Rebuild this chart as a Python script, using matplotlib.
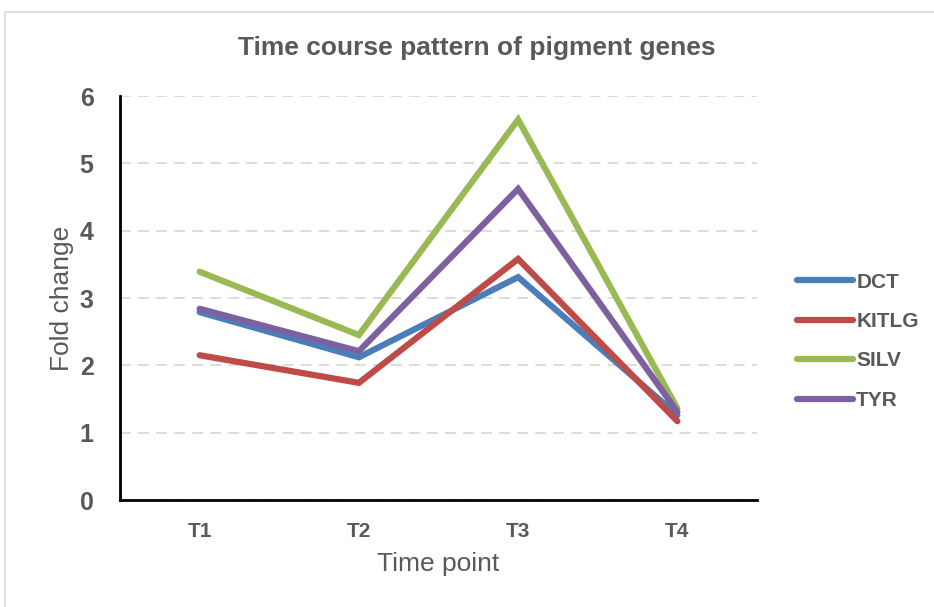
import matplotlib.pyplot as plt
from matplotlib.patches import Rectangle

time_points = ["T1", "T2", "T3", "T4"]
dct = [2.79, 2.12, 3.31, 1.26]
kitlg = [2.15, 1.74, 3.58, 1.17]
silv = [3.39, 2.45, 5.65, 1.36]
tyr = [2.84, 2.21, 4.62, 1.31]

series = [("DCT", dct, "#4A7EBB"),
          ("KITLG", kitlg, "#BE4B48"),
          ("SILV", silv, "#98B954"),
          ("TYR", tyr, "#7D60A0")]

plt.rcParams['font.family'] = ['Liberation Sans', 'DejaVu Sans']
grey = "#595959"

fig = plt.figure(figsize=(9.34, 6.07), dpi=100)
# light chart-area border like the spreadsheet export
fig.patches.append(Rectangle((5 / 934, -0.01), 1.0, 1 - 12 / 607 + 0.01,
                             transform=fig.transFigure, fill=False,
                             edgecolor="#D9D9D9", linewidth=1.2))

ax = fig.add_axes([120 / 934, 1 - 500 / 607, (757 - 120) / 934, (500 - 96) / 607])
x = list(range(len(time_points)))
for name, vals, color in series:
    ax.plot(x, vals, color=color, linewidth=4.5, label=name,
            solid_capstyle="round", solid_joinstyle="miter")

ax.set_xlim(-0.5, 3.5)
ax.set_ylim(0, 6)
ax.set_yticks(range(0, 7))
ax.set_xticks(x)
ax.set_xticklabels(time_points)
ax.tick_params(length=0)
ax.tick_params(axis="y", labelsize=18, labelcolor=grey, pad=19)
ax.tick_params(axis="x", labelsize=15, labelcolor=grey, pad=16)
for lab in ax.get_xticklabels() + ax.get_yticklabels():
    lab.set_fontweight("bold")

ax.grid(axis="y", color="#D9D9D9", linestyle=(0, (6, 4)), linewidth=1.3)
ax.set_axisbelow(True)
for s in ["top", "right"]:
    ax.spines[s].set_visible(False)
for s in ["left", "bottom"]:
    ax.spines[s].set_linewidth(2)
    ax.spines[s].set_color("black")

ax.set_xlabel("Time point", fontsize=19, color=grey, labelpad=8)
ax.set_ylabel("Fold change", fontsize=19, color=grey, labelpad=4)
fig.text(477 / 934, 1 - 48 / 607, "Time course pattern of pigment genes",
         ha="center", va="center", fontsize=19, fontweight="bold", color=grey)

leg = ax.legend(loc="center left", bbox_to_anchor=(1.033, 0.393), frameon=False,
                prop={"size": 15, "weight": "bold"}, handlelength=2.7,
                handletextpad=0.15, labelspacing=0.98)
for t in leg.get_texts():
    t.set_color(grey)

fig.savefig("out.png", dpi=100)
